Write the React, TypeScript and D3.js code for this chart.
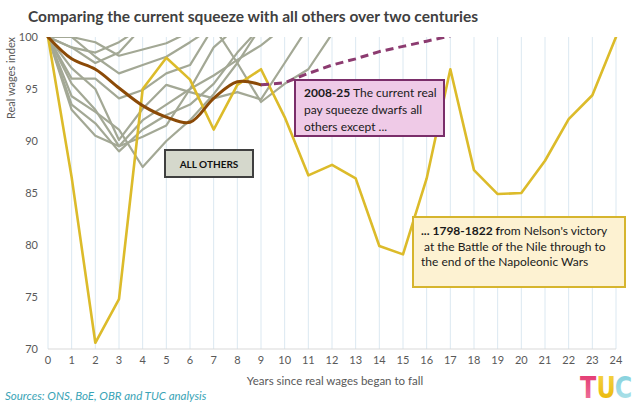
import React from "react";
import * as d3 from "d3";

const W = 636;
const H = 406;

const years = d3.range(0, 25);
const yTicks = [70, 75, 80, 85, 90, 95, 100];

// 1798-1822 episode
const napoleonic = [100, 86.5, 70.6, 74.8, 95.0, 98.0, 95.9, 91.1, 95.4, 96.9, 92.3, 86.7, 87.7, 86.4, 79.9, 79.1, 86.4, 96.9, 87.2, 84.9, 85.0, 88.1, 92.1, 94.4, 100];
// 2008-25 current squeeze: outturn, then forecast (from year 9)
const currentActual = [100, 97.9, 96.9, 95.1, 93.4, 92.3, 91.8, 94.1, 95.7, 95.4];
const forecastStartYear = 9;
const currentForecast = [95.4, 95.6, 96.5, 97.3, 97.9, 98.6, 99.1, 99.6, 100.1];
// all other episodes
const other1 = [100, 100, 99.5, 98.2, 98.8, 99.4, 100.5];
const other2 = [100, 100, 98.1, 96.5, 97.3, 98.1, 99.5, 101];
const other3 = [100, 96.0, 96.0, 94.1, 94.9, 96.5, 97.3, 101];
const other4 = [100, 94.3, 92.8, 91.1, 87.5, 90.0, 92.0, 94.5, 97.5, 101];
const other5 = [100, 93.5, 91.7, 89.0, 91.1, 92.5, 93.5, 95.5, 98.5, 101];
const other6 = [100, 93.0, 90.5, 89.5, 90.4, 91.5, 95.0, 99.0, 101];
const other7 = [100, 97.0, 95.0, 90.1, 93.1, 95.4, 94.7, 94.1, 94.7, 94.0, 97.5, 101];
const other8 = [100, 99.0, 97.5, 98.5, 101];
const other9 = [100, 95.5, 93.0, 89.5, 92.0, 93.5, 95.0, 96.3, 97.8, 99.2, 101];
const other10 = [100, 99.0, 98.5, 99.5, 101, 103, 103, 101, 97.5, 93.75, 95.5, 96.9, 100.3];
const others = [other1, other2, other3, other4, other5, other6, other7, other8, other9, other10];

const logoLetters = ["T", "U", "C"];
const logoFills = ["url(#tG)", "url(#uG)", "url(#cG)"];
const logoOffsets = [0, 19.5, 41];

const FONT = "Lato, 'Open Sans', sans-serif";

export default function App() {
  const left = 48, right = 616, top = 37, bottom = 349;
  const x = d3.scaleLinear().domain([0, 24]).range([left, right]);
  const y = d3.scaleLinear().domain([70, 100]).range([bottom, top]);
  const line = d3.line<number>().x((_, i) => x(i)).y((d) => y(d));
  const smooth = d3.line<number>().x((_, i) => x(i)).y((d) => y(d)).curve(d3.curveCatmullRom.alpha(0.5));
  const fline = d3.line<number>().x((_, i) => x(i + forecastStartYear)).y((d) => y(d));

  return (
    <svg width={W} height={H} style={{ position: "absolute", left: 0, top: 0, background: "#fff" }} fontFamily={FONT}>
      <defs>
        <clipPath id="plot">
          <rect x={left - 5} y={top} width={right - left + 10} height={bottom - top + 5} />
        </clipPath>
        <linearGradient id="tG" x1="0" y1="0" x2="0" y2="1">
          <stop offset="0" stopColor="#e2336e" />
          <stop offset="1" stopColor="#ef7aa0" />
        </linearGradient>
        <linearGradient id="uG" x1="0" y1="0" x2="0" y2="1">
          <stop offset="0" stopColor="#f5d54a" />
          <stop offset="1" stopColor="#e9b400" />
        </linearGradient>
        <linearGradient id="cG" x1="0" y1="0" x2="0" y2="1">
          <stop offset="0" stopColor="#7fcfdc" />
          <stop offset="1" stopColor="#b3e3ea" />
        </linearGradient>
      </defs>

      <text x={28} y={22} fontSize={15} fontWeight={700} fill="#404040" textLength={450} lengthAdjust="spacingAndGlyphs">
        Comparing the current squeeze with all others over two centuries
      </text>

      {/* grid */}
      {years.map((t) => (
        <line key={"g" + t} x1={x(t)} x2={x(t)} y1={top} y2={bottom} stroke="#dbe8f1" strokeWidth={1} />
      ))}
      <line x1={left} x2={right} y1={bottom} y2={bottom} stroke="#d9d9d9" strokeWidth={1} />

      {/* y ticks */}
      {yTicks.map((t) => (
        <text key={"y" + t} x={38} y={y(t) + 4} fontSize={11} fill="#595959" textAnchor="end">
          {t}
        </text>
      ))}
      <text transform={`translate(15,78) rotate(-90)`} fontSize={11} fill="#595959" textAnchor="middle">
        Real wages index
      </text>

      {/* x ticks */}
      {years.map((t) => (
        <text key={"x" + t} x={x(t)} y={364} fontSize={11} fill="#595959" textAnchor="middle">
          {t}
        </text>
      ))}
      <text x={335} y={385} fontSize={11.5} fill="#595959" textAnchor="middle">
        Years  since real wages began to fall
      </text>

      <g clipPath="url(#plot)" fill="none" strokeLinejoin="round" strokeLinecap="round">
        {others.map((s, i) => (
          <path key={"o" + i} d={line(s) || ""} stroke="#a3a895" strokeWidth={2.2} />
        ))}
        <path d={line(napoleonic) || ""} stroke="#dcbb2a" strokeWidth={2.6} />
        <path d={smooth(currentActual) || ""} stroke="#8b4a07" strokeWidth={3} />
        <path d={fline(currentForecast) || ""} stroke="#8c3b70" strokeWidth={3} strokeDasharray="8 5" strokeLinecap="butt" />
      </g>

      {/* ALL OTHERS box */}
      <rect x={165} y={150} width={88} height={27} fill="#d5d8cc" stroke="#3f3f3f" strokeWidth={2} />
      <text x={209} y={167.5} fontSize={10} fontWeight={700} fill="#111" textAnchor="middle">
        ALL OTHERS
      </text>

      {/* current squeeze box */}
      <rect x={295} y={80} width={149} height={56} fill="#efcae7" stroke="#7a2e6a" strokeWidth={2} />
      <text fontSize={12} fill="#1a1a1a">
        <tspan x={304} y={97}>
          <tspan fontWeight={700}>2008-25</tspan> The current real
        </tspan>
        <tspan x={304} y={114}>pay squeeze  dwarfs all</tspan>
        <tspan x={304} y={130.5}>others except ...</tspan>
      </text>

      {/* Napoleonic box */}
      <rect x={413} y={217} width={212} height={70} fill="#fdf2d2" stroke="#d6b52e" strokeWidth={2} />
      <text fontSize={12} fill="#1a1a1a">
        <tspan x={421} y={235}>
          <tspan fontWeight={700}>... 1798-1822 f</tspan>rom Nelson's victory
        </tspan>
        <tspan x={424} y={250.5}>at the Battle of the Nile through to</tspan>
        <tspan x={421} y={266}>the end of the Napoleonic Wars</tspan>
      </text>

      <text x={5} y={400} fontSize={11.5} fontStyle="italic" fill="#3aa4b6">
        Sources: ONS, BoE, OBR and TUC analysis
      </text>

      {/* TUC logo */}
      <g transform="translate(580,398) scale(0.85,1.05)">
        {logoLetters.map((l, i) => (
          <text key={l} x={logoOffsets[i]} y={0} fontSize={28} fontWeight={700} fontFamily="'DejaVu Sans', sans-serif" fill={logoFills[i]}>
            {l}
          </text>
        ))}
      </g>
    </svg>
  );
}
